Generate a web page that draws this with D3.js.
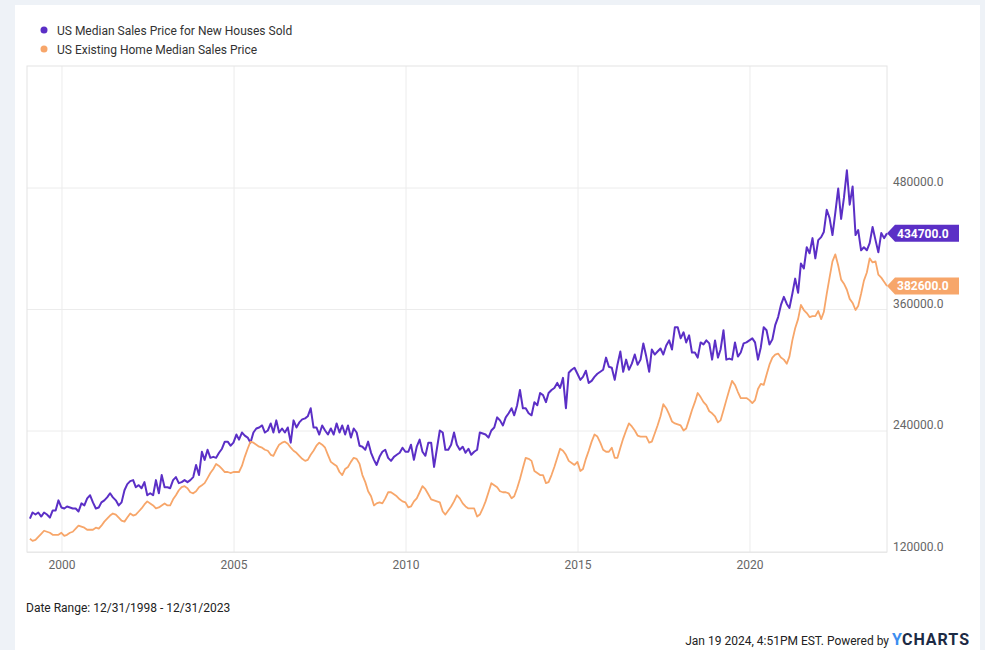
<!DOCTYPE html>
<html>
<head>
<meta charset="utf-8">
<script src="https://cdn.jsdelivr.net/npm/d3@7"></script>
<style>
  body { margin: 0; background: #eef2f7; }
  svg { display: block; font-family: Roboto, "Open Sans", sans-serif; }
</style>
</head>
<body>
<svg id="chart" width="985" height="650"></svg>
<script>
// monthly medians in thousands of dollars, Jan 1999 .. Dec 2023
var newHouses = [
  153, 159, 157, 159, 155, 159, 157, 154, 161, 161, 171, 164,
  163, 165, 164, 163, 163, 160, 168, 166, 173, 176, 169, 163,
  164, 169, 171, 174, 178, 174, 171, 166, 169, 181, 187, 190,
  191, 184, 186, 183, 189, 176, 178, 176, 191, 178, 196, 184,
  184, 183, 191, 194, 188, 189, 191, 189, 191, 194, 206, 196,
  219, 211, 221, 213, 214, 213, 218, 222, 229, 229, 225, 228,
  236, 231, 238, 235, 233, 228, 238, 242, 243, 245, 238, 240,
  247, 238, 250, 238, 242, 238, 243, 228, 250, 243, 248, 251,
  252, 254, 262, 243, 243, 236, 245, 240, 236, 242, 236, 247,
  238, 245, 236, 245, 233, 242, 238, 225, 224, 221, 229, 218,
  211, 206, 214, 219, 221, 213, 210, 214, 216, 218, 223, 219,
  219, 226, 211, 224, 231, 219, 215, 228, 228, 204, 222, 240,
  238, 221, 221, 226, 238, 226, 221, 224, 218, 222, 216, 219,
  221, 238, 237, 236, 233, 240, 243, 253, 250, 245, 253, 257,
  262, 255, 265, 280, 262, 262, 257, 255, 268, 265, 277, 275,
  268, 277, 280, 282, 287, 282, 292, 262, 297, 300, 302, 296,
  290, 293, 299, 287, 289, 293, 296, 298, 300, 312, 303, 302,
  290, 305, 318, 298, 310, 300, 306, 315, 305, 310, 326, 313,
  298, 320, 315, 318, 321, 315, 324, 329, 320, 342, 342, 331,
  337, 327, 334, 317, 317, 312, 327, 325, 329, 326, 310, 329,
  312, 320, 339, 310, 311, 310, 327, 313, 317, 326, 327, 329,
  331, 327, 310, 322, 342, 339, 325, 330, 344, 352, 364, 372,
  365, 361, 375, 390, 376, 405, 400, 421, 415, 430, 410, 428,
  431, 436, 458, 450, 433, 455, 479, 449, 470, 497, 463, 481,
  433, 438, 418, 421, 418, 425, 441, 428, 416, 435, 430, 434.7
]
var existingHomes = [
  133, 131, 132, 135, 138, 141, 140, 139, 137, 137, 137, 139,
  136, 137, 139, 140, 143, 146, 145, 144, 142, 142, 142, 144,
  143, 146, 150, 153, 156, 158, 157, 154, 151, 150, 154, 158,
  156, 157, 160, 163, 167, 170, 168, 166, 163, 164, 166, 168,
  166, 166, 172, 176, 181, 184, 185, 183, 179, 178, 180, 184,
  186, 188, 193, 198, 202, 207, 205, 202, 199, 199, 198, 199,
  199, 199, 205, 214, 222, 229, 228, 226, 224, 223, 221, 220,
  216, 215, 221, 226, 228, 229, 227, 223, 220, 218, 215, 212,
  210, 211, 216, 220, 225, 228, 226, 223, 216, 209, 207, 205,
  199, 196, 202, 204, 209, 213, 212, 207, 196, 189, 180, 175,
  166, 168, 169, 168, 173, 179, 179, 177, 175, 172, 170, 169,
  164, 165, 170, 173, 179, 185, 182, 177, 172, 171, 170, 169,
  160, 157, 161, 165, 170, 176, 173, 168, 165, 163, 163, 163,
  155, 157, 163, 170, 179, 188, 186, 184, 180, 179, 179, 178,
  173, 175, 183, 192, 203, 213, 212, 210, 200, 198, 196, 196,
  188, 189, 196, 204, 213, 222, 220, 216, 210, 208, 206, 209,
  200, 202, 212, 220, 229, 236, 234, 228, 221, 219, 219, 223,
  213, 213, 223, 232, 240, 247, 244, 240, 235, 234, 234, 234,
  228, 229, 237, 245, 254, 266, 262, 256, 249, 247, 246, 245,
  240, 242, 251, 260, 268, 277, 273, 268, 265, 259, 257, 254,
  248, 250, 260, 270, 280, 289, 285, 278, 272, 272, 272, 270,
  267, 270, 281, 286, 285, 295, 305, 312, 315, 316, 312, 310,
  306, 313, 329, 341, 350, 364, 359, 356, 352, 353, 353, 358,
  350, 357, 375, 391, 407, 414, 403, 389, 385, 379, 370, 366,
  359, 363, 375, 388, 396, 410, 406, 407, 394, 391, 387, 382.6
]
var seriesNames = ["US Median Sales Price for New Houses Sold", "US Existing Home Median Sales Price"]
var seriesColors = ["#5b2fc6", "#f7a66a"]
var xTickYears = [2000, 2005, 2010, 2015, 2020]
var yTicks = [120000, 240000, 360000, 480000]
var startYear = 1999

// month-end dates for every point
var dates = newHouses.map((d, i) => new Date(startYear, i + 1, 0))

const PLOT = { LEFT: 27, RIGHT: 887, TOP: 66, BOTTOM: 552 }

const svg = d3.select("#chart")
svg.append("rect")
    .attr("x", 15).attr("y", 5)
    .attr("width", 965).attr("height", 660)
    .attr("fill", "#fff")

const xScale = d3.scaleTime()
    .domain([new Date(1998, 11, 31), new Date(2023, 11, 31)])
    .range([PLOT.LEFT, PLOT.RIGHT])
const yScale = d3.scaleLinear()
    .domain([120000, 600000])
    .range([PLOT.BOTTOM, PLOT.TOP])

// x grid + labels
const gx = svg.append("g")
    .attr("transform", "translate(0," + PLOT.BOTTOM + ")")
    .call(d3.axisBottom(xScale)
        .tickValues(xTickYears.map(yr => new Date(yr, 0, 1)))
        .tickSize(-(PLOT.BOTTOM - PLOT.TOP))
        .tickFormat(d3.timeFormat("%Y")))
gx.select(".domain").remove()
gx.selectAll("line").attr("stroke", "#ececec")
gx.selectAll("text")
    .attr("y", 8)
    .attr("fill", "#666")
    .style("font-size", "12px")
    .style("font-family", "Roboto, sans-serif")

// y grid + labels on the right
const gy = svg.append("g")
    .attr("transform", "translate(" + PLOT.RIGHT + ",0)")
    .call(d3.axisRight(yScale)
        .tickValues(yTicks)
        .tickSize(-(PLOT.RIGHT - PLOT.LEFT))
        .tickFormat(d => d.toFixed(1)))
gy.select(".domain").remove()
gy.selectAll("line").attr("stroke", "#ececec")
gy.selectAll("text")
    .attr("x", 6)
    .attr("dy", "-0.15em")
    .attr("fill", "#666")
    .style("font-size", "12px")
    .style("font-family", "Roboto, sans-serif")

// plot frame
svg.append("rect")
    .attr("x", PLOT.LEFT).attr("y", PLOT.TOP)
    .attr("width", PLOT.RIGHT - PLOT.LEFT)
    .attr("height", PLOT.BOTTOM - PLOT.TOP)
    .attr("fill", "none")
    .attr("stroke", "#e4e4e4")

// lines
var allSeries = [newHouses, existingHomes]
var line = d3.line()
    .x((d, i) => xScale(dates[i]))
    .y(d => yScale(d * 1000))

allSeries.forEach(function(s, k) {
    svg.append("path")
        .datum(s)
        .attr("d", line)
        .attr("fill", "none")
        .attr("stroke", seriesColors[k])
        .attr("stroke-width", k == 0 ? 2 : 1.8)
        .attr("stroke-linejoin", "round")
})

// last value badges
allSeries.forEach(function(s, k) {
    var last = s[s.length - 1] * 1000
    var cy = yScale(last)
    var tip = PLOT.RIGHT
    svg.append("path")
        .attr("d", "M" + tip + "," + cy + "L" + (tip + 8) + "," + (cy - 8.5) + "H959V" + (cy + 8.5) + "H" + (tip + 8) + "Z")
        .attr("fill", seriesColors[k])
    svg.append("text")
        .attr("x", 897).attr("y", cy + 4.3)
        .text(last.toFixed(1))
        .attr("fill", "#fff")
        .style("font-size", "12px")
        .style("font-weight", "bold")
})

// legend
seriesNames.forEach(function(name, k) {
    var ly = 30 + k * 19
    svg.append("circle")
        .attr("cx", 44).attr("cy", ly).attr("r", 3.5)
        .attr("fill", seriesColors[k])
    svg.append("text")
        .attr("x", 57).attr("y", ly + 4.8)
        .text(name)
        .attr("fill", "#333")
        .style("font-size", "12px")
})

// footer
svg.append("text")
    .attr("x", 26).attr("y", 612)
    .text("Date Range: 12/31/1998 - 12/31/2023")
    .attr("fill", "#222")
    .style("font-size", "12px")

var foot = svg.append("text")
    .attr("x", 970).attr("y", 645)
    .attr("text-anchor", "end")
foot.append("tspan")
    .text("Jan 19 2024, 4:51PM EST. Powered by ")
    .attr("fill", "#222")
    .style("font-size", "12px")
foot.append("tspan")
    .text("Y")
    .attr("fill", "#3d8ef0")
    .style("font-size", "16px")
    .style("font-weight", "bold")
foot.append("tspan")
    .text("CHARTS")
    .attr("fill", "#1d2a44")
    .style("font-size", "16px")
    .style("font-weight", "bold")
    .style("letter-spacing", "1px")
</script>
</body>
</html>
